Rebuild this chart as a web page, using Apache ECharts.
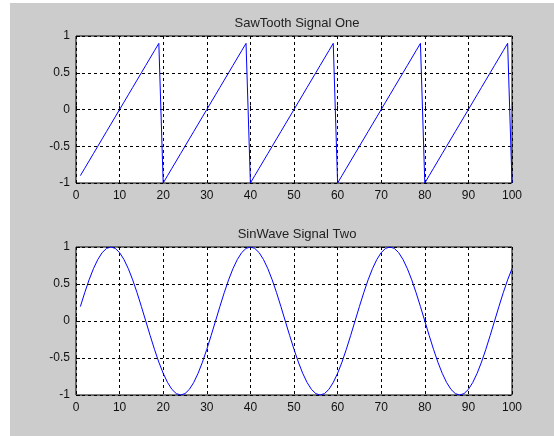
<!DOCTYPE html>
<html>
<head>
<meta charset="utf-8">
<script src="https://cdn.jsdelivr.net/npm/echarts@6/dist/echarts.min.js"></script>
<style>
html,body{margin:0;padding:0;background:#fff;}
#bg{position:absolute;left:10px;top:3px;width:544px;height:433px;background:#cccccc;}
#chart{position:absolute;left:0;top:0;width:554px;height:436px;}
</style>
</head>
<body>
<div id="bg"></div>
<div id="chart"></div>
<script>
var titles = ['SawTooth Signal One', 'SinWave Signal Two'];
var xTicks = [0, 10, 20, 30, 40, 50, 60, 70, 80, 90, 100];
var yTicks = [-1, -0.5, 0, 0.5, 1];
var sawValues = [
-0.9,-0.8,-0.7,-0.6,-0.5,-0.4,-0.3,-0.2,-0.1,0,0.1,0.2,0.3,0.4,0.5,0.6,0.7,0.8,0.9,-1,
-0.9,-0.8,-0.7,-0.6,-0.5,-0.4,-0.3,-0.2,-0.1,0,0.1,0.2,0.3,0.4,0.5,0.6,0.7,0.8,0.9,-1,
-0.9,-0.8,-0.7,-0.6,-0.5,-0.4,-0.3,-0.2,-0.1,0,0.1,0.2,0.3,0.4,0.5,0.6,0.7,0.8,0.9,-1,
-0.9,-0.8,-0.7,-0.6,-0.5,-0.4,-0.3,-0.2,-0.1,0,0.1,0.2,0.3,0.4,0.5,0.6,0.7,0.8,0.9,-1,
-0.9,-0.8,-0.7,-0.6,-0.5,-0.4,-0.3,-0.2,-0.1,0,0.1,0.2,0.3,0.4,0.5,0.6,0.7,0.8,0.9,-1
];
var sinValues = [
0.195,0.383,0.556,0.707,0.831,0.924,0.981,1,0.981,0.924,0.831,0.707,0.556,0.383,0.195,0,
-0.195,-0.383,-0.556,-0.707,-0.831,-0.924,-0.981,-1,-0.981,-0.924,-0.831,-0.707,-0.556,-0.383,-0.195,0,
0.195,0.383,0.556,0.707,0.831,0.924,0.981,1,0.981,0.924,0.831,0.707,0.556,0.383,0.195,0,
-0.195,-0.383,-0.556,-0.707,-0.831,-0.924,-0.981,-1,-0.981,-0.924,-0.831,-0.707,-0.556,-0.383,-0.195,0,
0.195,0.383,0.556,0.707,0.831,0.924,0.981,1,0.981,0.924,0.831,0.707,0.556,0.383,0.195,0,
-0.195,-0.383,-0.556,-0.707,-0.831,-0.924,-0.981,-1,-0.981,-0.924,-0.831,-0.707,-0.556,-0.383,-0.195,0,
0.195,0.383,0.556,0.707
];

function pairs(vals){ var out=[]; for(var i=0;i<vals.length;i++){ out.push([i+1, vals[i]]); } return out; }

var font = 'Liberation Sans, Arial, sans-serif';
var grids = [
  {left:76, right:42, top:36, height:147},
  {left:76, right:42, top:247, height:148}
];
var gridOpts = grids.map(function(g){
  return Object.assign({show:true, backgroundColor:'#ffffff', borderColor:'#000', borderWidth:1, containLabel:false}, g);
});
function xAxis(i){
  return {type:'value', gridIndex:i, min:xTicks[0], max:xTicks[xTicks.length-1], interval:10,
    axisLine:{show:false}, axisTick:{show:true, inside:true, length:4, lineStyle:{color:'#000'}},
    axisLabel:{color:'#111', fontFamily:font, fontSize:12, margin:7},
    splitLine:{show:true, lineStyle:{color:'#000', type:[3,3], width:1}}};
}
function yAxis(i){
  return {type:'value', gridIndex:i, min:yTicks[0], max:yTicks[yTicks.length-1], interval:0.5,
    axisLine:{show:false}, axisTick:{show:true, inside:true, length:4, lineStyle:{color:'#000'}},
    axisLabel:{color:'#111', fontFamily:font, fontSize:12, margin:6},
    splitLine:{show:true, lineStyle:{color:'#000', type:[3,3], width:1}}};
}
var chart = echarts.init(document.getElementById('chart'), null, {renderer:'canvas'});
chart.setOption({
  backgroundColor:'transparent',
  animation:false,
  title:[
    {text:titles[0], left:292, top:12, textAlign:'center', textStyle:{fontFamily:font, fontSize:13, fontWeight:'normal', color:'#222'}},
    {text:titles[1], left:292, top:223, textAlign:'center', textStyle:{fontFamily:font, fontSize:13, fontWeight:'normal', color:'#222'}}
  ],
  grid:gridOpts,
  xAxis:[xAxis(0), xAxis(1)],
  yAxis:[yAxis(0), yAxis(1)],
  series:[
    {type:'line', xAxisIndex:0, yAxisIndex:0, data:pairs(sawValues), showSymbol:false, lineStyle:{color:'#0000ff', width:1}, z:5},
    {type:'line', xAxisIndex:1, yAxisIndex:1, data:pairs(sinValues), showSymbol:false, smooth:false, lineStyle:{color:'#0000ff', width:1}, z:5}
  ]
});
</script>
</body>
</html>
